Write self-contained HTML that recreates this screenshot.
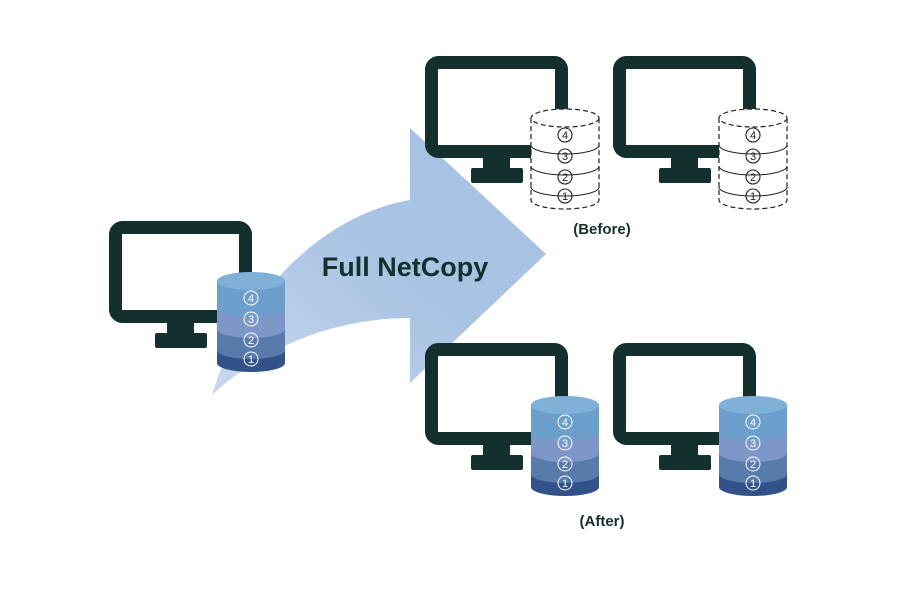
<!DOCTYPE html>
<html><head><meta charset="utf-8"><style>
html,body{margin:0;padding:0;background:#fff;width:900px;height:600px;overflow:hidden}
</style></head><body>
<svg width="900" height="600" viewBox="0 0 900 600" xmlns="http://www.w3.org/2000/svg" font-family="Liberation Sans, sans-serif">
<defs>
<linearGradient id="ag" x1="0" y1="1" x2="1" y2="0">
<stop offset="0" stop-color="#c9d9ee"/><stop offset="0.5" stop-color="#a9c3e3"/><stop offset="1" stop-color="#a7c2e3"/>
</linearGradient>
<g id="mon">
<rect x="6.5" y="6.5" width="130" height="89" rx="7" fill="none" stroke="#14302e" stroke-width="13"/>
<rect x="58" y="100" width="27" height="16" fill="#14302e"/>
<rect x="46" y="112" width="52" height="15" rx="2" fill="#14302e"/>
</g>
<g id="num" fill="none" stroke="#fff" stroke-width="1"></g>
<g id="db">
<path d="M0,78 L0,91 A34,9 0 0 0 68,91 L68,78 Z" fill="#33528a"/>
<path d="M0,57 L0,78 A34,9 0 0 0 68,78 L68,57 Z" fill="#587bab"/>
<path d="M0,36 L0,57 A34,9 0 0 0 68,57 L68,36 Z" fill="#7d98c8"/>
<path d="M0,9 L0,36 A34,9 0 0 0 68,36 L68,9 Z" fill="#6d9fcc"/>
<ellipse cx="34" cy="9" rx="34" ry="9" fill="#7fb0d8"/>
<g fill="none" stroke="#fff" stroke-width="1"><circle cx="34" cy="26" r="7"/><circle cx="34" cy="47" r="7"/><circle cx="34" cy="68" r="7"/><circle cx="34" cy="87" r="7"/></g>
<g fill="#fff" font-size="11" text-anchor="middle"><text x="34" y="30">4</text><text x="34" y="51">3</text><text x="34" y="72">2</text><text x="34" y="91">1</text></g>
</g>
<g id="dbd">
<path d="M0,9 L0,91 A34,9 0 0 0 68,91 L68,9 Z" fill="#fff" stroke="#222" stroke-width="1.2" stroke-dasharray="5,3"/>
<ellipse cx="34" cy="9" rx="34" ry="9" fill="#fff" stroke="#222" stroke-width="1.2" stroke-dasharray="5,3"/>
<g fill="none" stroke="#222" stroke-width="1.1"><path d="M0,36 A34,9 0 0 0 68,36"/><path d="M0,57 A34,9 0 0 0 68,57"/><path d="M0,78 A34,9 0 0 0 68,78"/>
<circle cx="34" cy="26" r="7"/><circle cx="34" cy="47" r="7"/><circle cx="34" cy="68" r="7"/><circle cx="34" cy="87" r="7"/></g>
<g fill="#222" font-size="11" text-anchor="middle"><text x="34" y="30">4</text><text x="34" y="51">3</text><text x="34" y="72">2</text><text x="34" y="91">1</text></g>
</g>
</defs>
<path d="M212,395 C240,300 320,215 410,200 L410,128 L546,254 L410,383 L410,318 C330,318 260,350 212,395 Z" fill="url(#ag)"/>
<use href="#mon" x="109" y="221"/>
<use href="#db" x="217" y="272"/>
<use href="#mon" x="425" y="56"/>
<use href="#dbd" x="531" y="109"/>
<use href="#mon" x="613" y="56"/>
<use href="#dbd" x="719" y="109"/>
<use href="#mon" x="425" y="343"/>
<use href="#db" x="531" y="396"/>
<use href="#mon" x="613" y="343"/>
<use href="#db" x="719" y="396"/>
<text x="405" y="276" font-size="27" font-weight="bold" fill="#14302e" text-anchor="middle">Full NetCopy</text>
<text x="602" y="234" font-size="15" font-weight="bold" fill="#14302e" text-anchor="middle">(Before)</text>
<text x="602" y="526" font-size="15" font-weight="bold" fill="#14302e" text-anchor="middle">(After)</text>
</svg>
</body></html>
